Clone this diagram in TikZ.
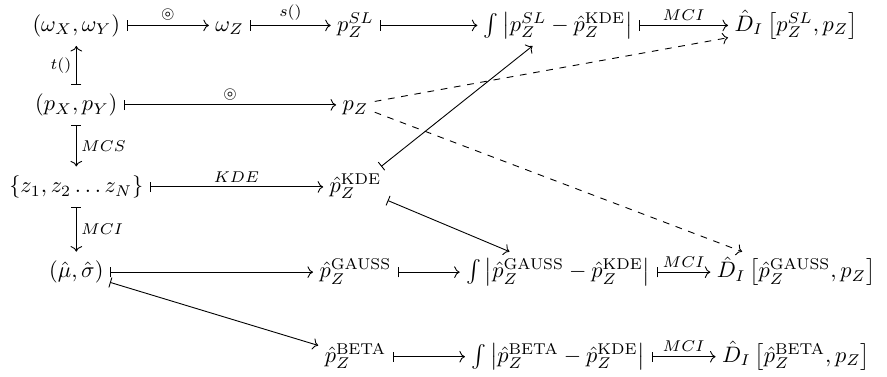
\documentclass[tikz,border=0pt]{standalone}
\usepackage{amsmath,amssymb}
\usetikzlibrary{arrows.meta}

\begin{document}
\begin{tikzpicture}[every node/.style={inner sep=2pt},
    cell/.style={inner xsep=2.7pt,inner ysep=3.8pt,text height=1.8ex,text depth=0.6ex},
    lbl/.style={font=\scriptsize},
    mapsto/.style={|->}]
  \useasboundingbox (0,0) rectangle (13.95,-5.92);
  % row 1
  \node[cell] (om)  at (1.20,-0.40)  {$(\omega_X,\omega_Y)$};
  \node[cell] (omz) at (3.61,-0.40)  {$\omega_Z$};
  \node[cell] (psl) at (5.59,-0.40)  {$p_Z^{SL}$};
  \node[cell] (isl) at (8.78,-0.40)  {$\int\left|p_Z^{SL}-\hat{p}_Z^{\mathrm{KDE}}\right|$};
  \node[cell] (dsl) at (12.52,-0.40) {$\hat{D}_I\left[p_Z^{SL},p_Z\right]$};
  % row 2
  \node[cell] (pxy) at (1.20,-1.65)  {$(p_X,p_Y)$};
  \node[cell] (pz)  at (5.59,-1.65)  {$p_Z$};
  % row 3
  \node[cell] (zs)  at (1.20,-2.94)  {$\{z_1,z_2\ldots z_N\}$};
  \node[cell] (kde) at (5.59,-2.94)  {$\hat{p}_Z^{\mathrm{KDE}}$};
  % row 4
  \node[cell] (ms)  at (1.20,-4.28)  {$(\hat{\mu},\hat{\sigma})$};
  \node[cell] (pg)  at (5.59,-4.28)  {$\hat{p}_Z^{\mathrm{GAUSS}}$};
  \node[cell] (ig)  at (8.78,-4.28)  {$\int\left|\hat{p}_Z^{\mathrm{GAUSS}}-\hat{p}_Z^{\mathrm{KDE}}\right|$};
  \node[cell] (dg)  at (12.52,-4.28) {$\hat{D}_I\left[\hat{p}_Z^{\mathrm{GAUSS}},p_Z\right]$};
  % row 5
  \node[cell] (pb)  at (5.59,-5.61)  {$\hat{p}_Z^{\mathrm{BETA}}$};
  \node[cell] (ib)  at (8.78,-5.61)  {$\int\left|\hat{p}_Z^{\mathrm{BETA}}-\hat{p}_Z^{\mathrm{KDE}}\right|$};
  \node[cell] (db)  at (12.52,-5.61) {$\hat{D}_I\left[\hat{p}_Z^{\mathrm{BETA}},p_Z\right]$};
  % plain maps
  \foreach \a/\b in {psl/isl,pg/ig,pb/ib,ms/pg,ms/pb,kde/isl,kde/ig}{\draw[mapsto](\a)--(\b);}
  % labelled maps
  \foreach \a/\b/\l in {om/omz/\circledcirc,omz/psl/s(),isl/dsl/MCI,pxy/pz/\circledcirc,
      zs/kde/KDE,ig/dg/MCI,ib/db/MCI}{\draw[mapsto](\a)-- node[lbl,above]{$\l$} (\b);}
  \draw[mapsto] (pxy) -- node[lbl,left] {$t()$} (om);
  \draw[mapsto] (pxy) -- node[lbl,right] {$MCS$} (zs);
  \draw[mapsto] (zs) -- node[lbl,right] {$MCI$} (ms);
  % comparison with p_Z
  \draw[->,dashed] (pz) -- (dsl);
  \draw[->,dashed] (pz) -- (dg);
\end{tikzpicture}
\end{document}
